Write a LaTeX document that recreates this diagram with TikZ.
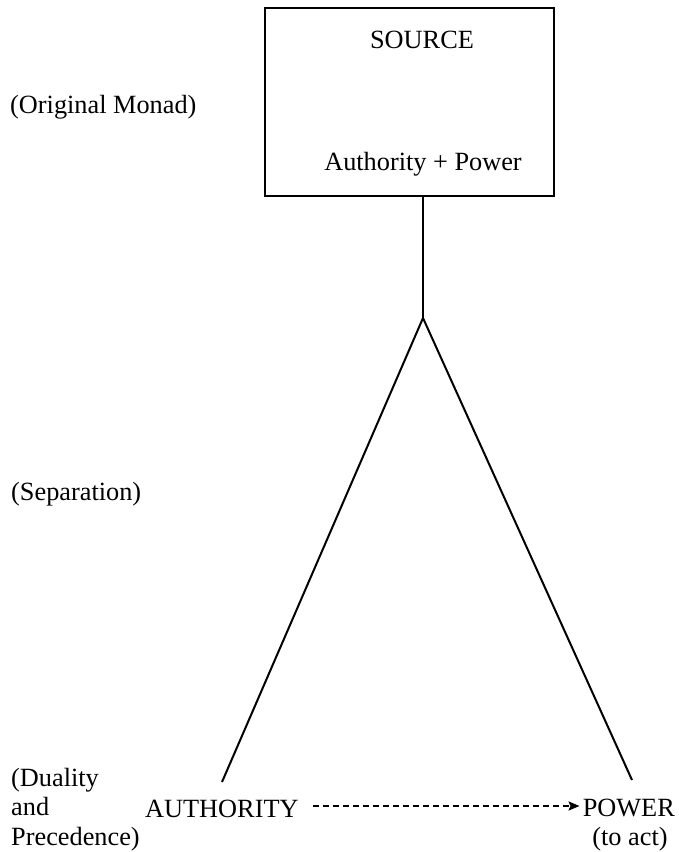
\documentclass[tikz,border=0pt]{standalone}
\usepackage{fontspec}
\setmainfont{Liberation Serif}
\usetikzlibrary{arrows.meta}
\begin{document}
\begin{tikzpicture}[x=1pt,y=-1pt,
  lbl/.style={font=\fontsize{26.3}{31}\selectfont, inner sep=0pt, anchor=base},
  lblw/.style={lbl, anchor=base west},
  ln/.style={line width=2pt}]
\useasboundingbox (0,0) rectangle (678,852);
% source box
\node[draw, line width=1.9pt, minimum width=289pt, minimum height=188pt, anchor=north west, inner sep=0pt] (box) at (264,7) {};
\node[lbl] (src) at (422,48) {SOURCE};
\node[lbl] (ap) at (423,170) {Authority + Power};
% side labels
\node[lblw] (mon) at (10,113) {(Original Monad)};
\node[lblw] (sep) at (11,500) {(Separation)};
\node[lblw] (dua) at (11,786) {(Duality};
\node[lblw] (and) at (11,815) {and};
\node[lblw] (pre) at (11,845) {Precedence)};
% bottom pair
\node[lblw] (auth) at (145,817) {AUTHORITY};
\node[lbl, anchor=base east] (pow) at (675,816) {POWER};
\node[lbl] (act) at (630,845) {(to act)};
% branching lines
\coordinate (apex) at (423,318);
\coordinate (lend) at (222,782);
\coordinate (rend) at (632,780);
\draw[ln] (box.south -| apex) -- (apex);
\draw[ln] (apex) -- (lend);
\draw[ln] (apex) -- (rend);
% dashed arrow from AUTHORITY to POWER
\coordinate (as) at ([xshift=14pt,yshift=11pt]auth.base east);
\draw[line width=2pt, dash pattern=on 6pt off 4pt, -{Stealth[length=11pt,width=9pt,inset=2pt]}]
  (as) -- ([xshift=-3pt]as -| pow.west);
\end{tikzpicture}
\end{document}
